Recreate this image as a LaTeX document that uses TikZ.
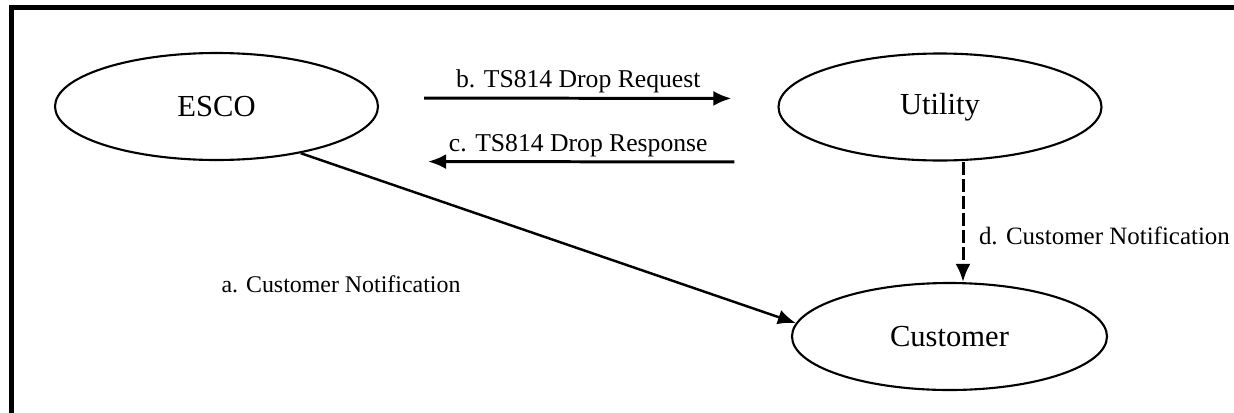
\documentclass[tikz,border=0pt]{standalone}
\usepackage{fontspec}
\setmainfont{Liberation Serif}
\usetikzlibrary{arrows.meta,shapes.geometric}

\begin{document}
\begin{tikzpicture}[x=0.1mm,y=-0.1mm]
            \tikzset{
                party/.style={ellipse,draw,line width=0.6pt,minimum width=32.3mm,minimum height=10.7mm,inner sep=0pt,font=\fontsize{8.7}{10}\selectfont},
                edge/.style={->,> = {Latex[length=1.8mm,width=1.5mm]},line width=0.85pt},
                msg/.style={font=\fontsize{7.3}{9}\selectfont,inner sep=1pt}
            }
            \useasboundingbox (0,0) rectangle (1234,412);
            % frame
            \draw[line width=1.4pt] (11.5,430) -- (11.5,7.5) -- (1250,7.5);

            % vertices
            \node[party] (esco) at (216.5,106.5) {ESCO};
            \node[party] (utility) at (940,107) {Utility};
            \node[party, minimum width=31.5mm] (customer) at (949.5,336.5) {Customer};
            \coordinate (dtop) at ([xshift=2.3mm]utility.south);

            %edges
            \draw[edge,shorten <=4.5mm,shorten >=4.6mm] ([yshift=0.85mm]esco.east) -- ([yshift=0.85mm]utility.west)
                node[msg,midway,above] (breq) {b. TS814 Drop Request};
            \draw[edge,shorten <=4.3mm,shorten >=4.9mm] ([yshift=-5.5mm]utility.west) -- ([yshift=-5.5mm]esco.east)
                node[msg,midway,above] (cresp) {c. TS814 Drop Response};
            \draw[edge,dash pattern=on 1.3mm off 0.4mm] (dtop) -- (dtop |- customer.north)
                node[msg,pos=0.62,right=1.1mm,font=\fontsize{7.1}{9}\selectfont] (dnote) {d. Customer Notification};
            \draw[edge,line width=0.7pt] (esco.-29) -- (customer.175);
            \node[msg,font=\fontsize{6.8}{8}\selectfont] (anote) at (341,284) {a. Customer Notification};
            \end{tikzpicture}
\end{document}
